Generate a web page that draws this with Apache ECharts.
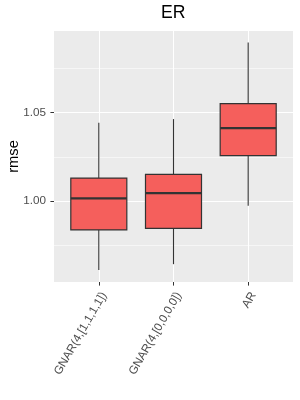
<!DOCTYPE html>
<html><head><meta charset="utf-8">
<script src="https://cdn.jsdelivr.net/npm/echarts@6/dist/echarts.min.js"></script>
<style>html,body{margin:0;padding:0;background:#fff}#c{width:300px;height:400px}</style>
</head><body><div id="c"></div>
<script>
const categories = ['GNAR(4,[1,1,1,1])', 'GNAR(4,[0,0,0,0])', 'AR'];
const categoryPositions = [1, 2, 3];
const whiskerLow = [0.9609, 0.9642, 0.9973];
const q1 = [0.9836, 0.9845, 1.0257];
const median = [1.0015, 1.0044, 1.0413];
const q3 = [1.0130, 1.0151, 1.0551];
const whiskerHigh = [1.0443, 1.0464, 1.0898];
const yMajorTicks = [1.00, 1.05];
const yMinorTicks = [0.975, 1.025, 1.075];
const yMin = 0.9541, yMax = 1.0963;
const xMin = 0.4, xMax = 3.6;

const FONT = 'Liberation Sans, Arial, sans-serif';
const data = categories.map((c, i) => [categoryPositions[i], whiskerLow[i], q1[i], median[i], q3[i], whiskerHigh[i]]);

function renderItem(params, api) {
  const x = api.value(0);
  const pLow = api.coord([x, api.value(1)]);
  const pQ1 = api.coord([x, api.value(2)]);
  const pMed = api.coord([x, api.value(3)]);
  const pQ3 = api.coord([x, api.value(4)]);
  const pHigh = api.coord([x, api.value(5)]);
  const bw = api.size([0.75, 0])[0];
  const cx = pMed[0];
  const stroke = '#333333';
  return {
    type: 'group',
    children: [
      { type: 'line', shape: { x1: cx, y1: pQ3[1], x2: cx, y2: pHigh[1] }, style: { stroke: stroke, lineWidth: 1.1 } },
      { type: 'line', shape: { x1: cx, y1: pQ1[1], x2: cx, y2: pLow[1] }, style: { stroke: stroke, lineWidth: 1.1 } },
      { type: 'rect', shape: { x: cx - bw / 2, y: pQ3[1], width: bw, height: pQ1[1] - pQ3[1] }, style: { fill: '#F55F5C', stroke: stroke, lineWidth: 1.2 } },
      { type: 'line', shape: { x1: cx - bw / 2, y1: pMed[1], x2: cx + bw / 2, y2: pMed[1] }, style: { stroke: stroke, lineWidth: 2.3 } }
    ]
  };
}

const chart = echarts.init(document.getElementById('c'), null, { renderer: 'canvas' });
chart.setOption({
  animation: false,
  backgroundColor: '#ffffff',
  textStyle: { fontFamily: FONT },
  title: {
    text: 'ER', left: 161, top: 4, padding: 0,
    textStyle: { fontSize: 17.6, fontWeight: 'normal', color: '#000', fontFamily: FONT }
  },
  grid: {
    left: 54, right: 7, top: 31, bottom: 118,
    show: true, backgroundColor: '#EBEBEB', borderWidth: 0, containLabel: false,
    outerBoundsMode: 'none'
  },
  xAxis: {
    type: 'value', min: xMin, max: xMax,
    axisLine: { show: false },
    axisTick: { show: true, length: 3.6, customValues: categoryPositions, lineStyle: { color: '#333333', width: 1 } },
    axisLabel: {
      customValues: categoryPositions, rotate: 60, fontSize: 11.7, color: '#4D4D4D', margin: 8,
      fontFamily: FONT, align: 'right', verticalAlign: 'top',
      formatter: v => categories[categoryPositions.indexOf(Math.round(v))]
    },
    splitLine: { show: true, lineStyle: { color: '#ffffff', width: 1.1 } }
  },
  yAxis: [
    {
      type: 'value', min: yMin, max: yMax, position: 'left',
      name: 'rmse', nameLocation: 'middle', nameGap: 33, nameMoveOverlap: false,
      nameTextStyle: { fontSize: 14.7, color: '#000', fontFamily: FONT },
      axisLine: { show: false },
      axisTick: { show: true, length: 3.6, customValues: yMajorTicks, lineStyle: { color: '#333333', width: 1 } },
      axisLabel: { customValues: yMajorTicks, fontSize: 11.7, color: '#4D4D4D', margin: 8, fontFamily: FONT,
        formatter: v => v.toFixed(2) },
      splitLine: { show: true, lineStyle: { color: '#ffffff', width: 1.1 } }
    },
    {
      type: 'value', min: yMin, max: yMax, position: 'left',
      axisLine: { show: false },
      axisTick: { show: false, customValues: yMinorTicks },
      axisLabel: { show: false, customValues: yMinorTicks },
      splitLine: { show: true, lineStyle: { color: '#ffffff', width: 0.55 } }
    }
  ],
  series: [{
    type: 'custom', renderItem: renderItem, data: data,
    xAxisIndex: 0, yAxisIndex: 0,
    encode: { x: 0, y: [1, 2, 3, 4, 5] }
  }]
});
</script></body></html>
